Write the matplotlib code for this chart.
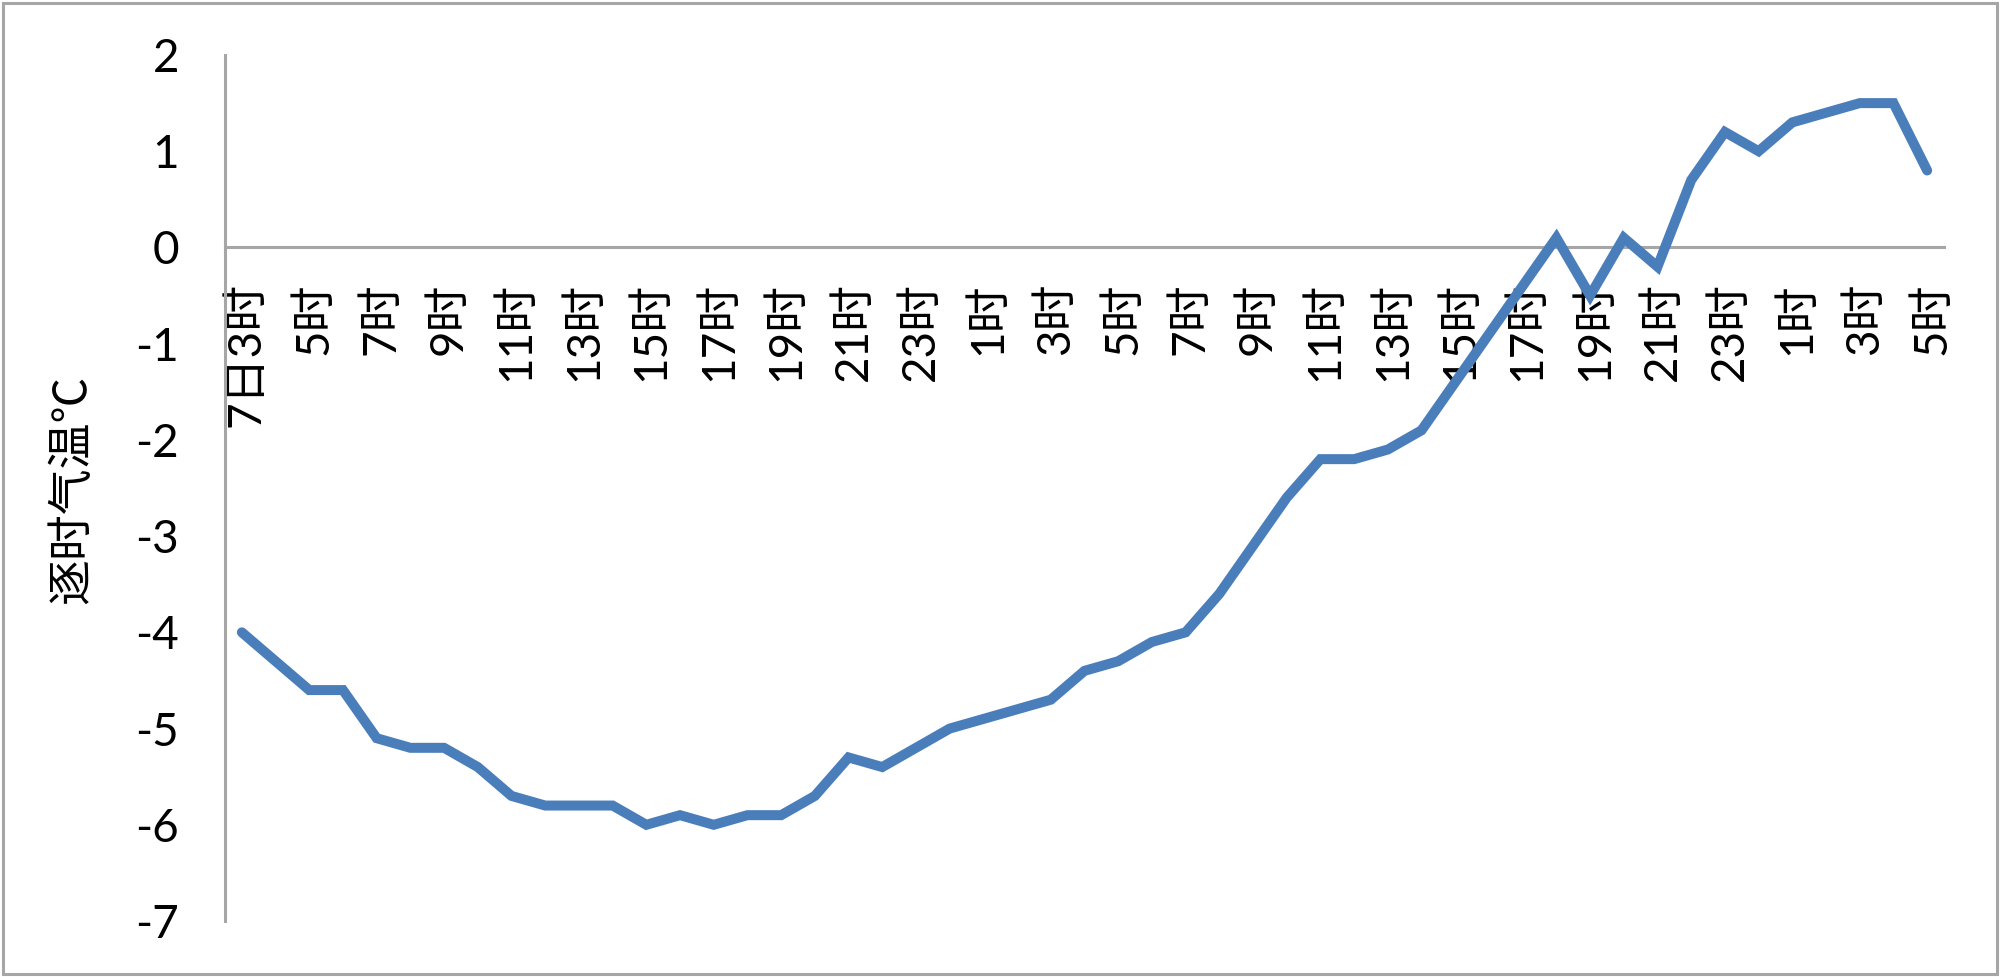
import matplotlib
matplotlib.use("Agg")
import matplotlib.pyplot as plt
import matplotlib.transforms as mtransforms
from matplotlib.patches import Rectangle

plt.rcParams["font.family"] = ["Lato", "Noto Sans CJK SC", "DejaVu Sans"]
plt.rcParams["axes.unicode_minus"] = False

# hourly temperature, 7日3时 .. 9日5时
temps = [-4.0, -4.3, -4.6, -4.6, -5.1, -5.2, -5.2, -5.4, -5.7, -5.8,
         -5.8, -5.8, -6.0, -5.9, -6.0, -5.9, -5.9, -5.7, -5.3, -5.4,
         -5.2, -5.0, -4.9, -4.8, -4.7, -4.4, -4.3, -4.1, -4.0, -3.6,
         -3.1, -2.6, -2.2, -2.2, -2.1, -1.9, -1.4, -0.9, -0.4, 0.1,
         -0.5, 0.1, -0.2, 0.7, 1.2, 1.0, 1.3, 1.4, 1.5, 1.5, 0.8]
hours = [(3 + i) % 24 for i in range(len(temps))]
labels = [f"{h}时" for h in hours]
labels[0] = "7日3时"
yticks = [-7, -6, -5, -4, -3, -2, -1, 0, 1, 2]

gray = "#a6a6a6"

fig = plt.figure(figsize=(20, 9.77), dpi=100)
ax = fig.add_axes([0.1125, 0.0573, 0.8595, 0.8864])

for s in ["top", "right"]:
    ax.spines[s].set_visible(False)
ax.spines["bottom"].set_position(("data", 0))
ax.spines["bottom"].set_color(gray)
ax.spines["bottom"].set_linewidth(2.2)
ax.spines["left"].set_color(gray)
ax.spines["left"].set_linewidth(2.2)

x = list(range(len(temps)))
ax.plot(x, temps, color="#4a7ebb", lw=7.2, solid_capstyle="round",
        solid_joinstyle="miter", zorder=3)

ax.set_xlim(-0.5, len(temps) - 0.5)
ax.set_ylim(-7, 2)
ax.set_yticks(yticks)
ax.set_yticklabels([str(v) for v in yticks])
ax.set_xticks(x[::2])
ax.set_xticklabels(labels[::2])

ax.tick_params(axis="y", length=0, pad=33, labelsize=33)
ax.tick_params(axis="x", length=0, pad=25, labelsize=33, labelrotation=90)
shift = mtransforms.ScaledTranslation(0.05, 0, fig.dpi_scale_trans)
for t in ax.get_xticklabels():
    t.set_va("top")
    t.set_ha("center")
    t.set_transform(t.get_transform() + shift)

ax.set_ylabel("逐时气温℃", fontsize=33, family=["Noto Sans CJK SC", "DejaVu Sans"])
ax.yaxis.set_label_coords(-0.075, 0.498)

# chart border
fig.patches.append(Rectangle((0.0015, 0.003), 0.997, 0.994, transform=fig.transFigure,
                             fill=False, edgecolor=gray, lw=2.2))

fig.savefig("out.png", dpi=100, facecolor="white")
